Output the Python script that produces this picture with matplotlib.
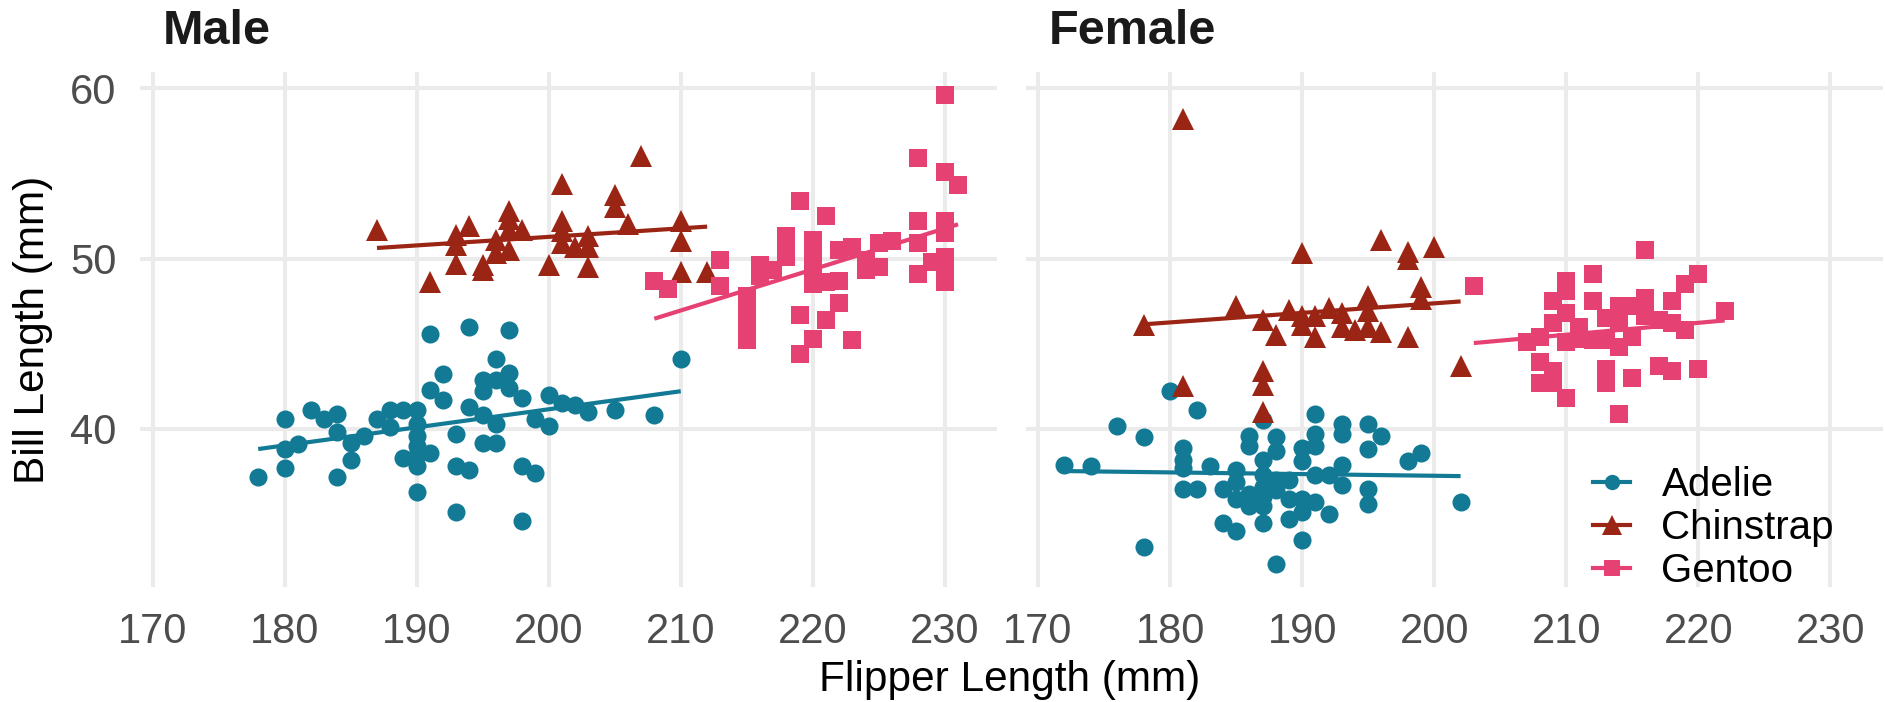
import matplotlib
matplotlib.use("Agg")
import matplotlib.pyplot as plt
from matplotlib.lines import Line2D
import numpy as np

plt.rcParams['font.family'] = ['Liberation Sans', 'DejaVu Sans']

species = ["Adelie", "Chinstrap", "Gentoo"]
sexes = ["Male", "Female"]
colors = {"Adelie": "#137A96", "Chinstrap": "#9A2515", "Gentoo": "#E64173"}
markers = {"Adelie": "o", "Chinstrap": "^", "Gentoo": "s"}

# Male
adelie_m_flipper = [178, 180, 180, 180, 181, 182, 183, 184, 184, 184, 185, 185, 186, 187, 188, 188, 189, 189,
                    190, 190, 190, 190, 190, 190, 190, 191, 191, 191, 192, 192, 193, 193, 193, 194, 194, 194,
                    195, 195, 195, 195, 196, 196, 196, 196, 197, 197, 197, 198, 198, 198, 199, 199, 200, 200,
                    201, 202, 203, 205, 208, 210]
adelie_m_bill = [37.2, 40.6, 38.8, 37.7, 39.1, 41.1, 40.6, 40.9, 39.8, 37.2, 39.2, 38.2, 39.6, 40.6, 41.1, 40.1, 41.1, 38.3,
                 41.1, 40.3, 39.6, 39.0, 38.5, 37.8, 36.3, 45.6, 42.3, 38.6, 43.2, 41.7, 39.7, 37.8, 35.1, 46.0, 41.3, 37.6,
                 42.9, 42.2, 40.8, 39.2, 44.1, 42.9, 40.3, 39.2, 45.8, 43.3, 42.4, 41.8, 37.8, 34.6, 40.6, 37.4, 42.0, 40.2,
                 41.5, 41.4, 41.0, 41.1, 40.8, 44.1]
chinstrap_m_flipper = [187, 191, 193, 193, 193, 194, 195, 195, 196, 196, 197, 197, 197, 197, 198, 200, 201, 201,
                       201, 201, 202, 203, 203, 203, 205, 205, 206, 207, 210, 210, 210, 212]
chinstrap_m_bill = [51.7, 48.6, 51.4, 50.8, 49.7, 51.9, 49.6, 49.3, 51.1, 50.3, 52.8, 52.3, 51.7, 50.5, 51.7, 49.6, 54.4, 52.2,
                    51.6, 50.9, 50.7, 51.3, 50.7, 49.5, 53.7, 53.0, 52.0, 56.0, 52.2, 51.0, 49.2, 49.2]
gentoo_m_flipper = [208, 209, 213, 213, 215, 215, 215, 215, 216, 216, 217, 218, 218, 218, 219, 219, 219, 220, 220, 220,
                    220, 220, 220, 221, 221, 221, 222, 222, 222, 223, 223, 224, 224, 225, 225, 226, 228, 228, 228,
                    228, 229, 230, 230, 230, 230, 230, 230, 230, 231]
gentoo_m_bill = [48.7, 48.2, 49.9, 48.4, 47.8, 46.9, 46.0, 45.2, 49.6, 49.0, 49.3, 51.3, 50.7, 50.1, 53.4, 46.7, 44.4, 51.1,
                 50.4, 49.6, 48.9, 48.5, 45.3, 52.5, 48.6, 46.4, 50.5, 48.7, 47.4, 50.7, 45.2, 49.9, 49.3, 50.9, 49.5,
                 51.0, 55.9, 52.2, 50.9, 49.1, 49.8, 59.6, 55.1, 52.2, 51.5, 50.1, 49.5, 48.6, 54.3]

# Female
adelie_f_flipper = [172, 174, 176, 178, 178, 180, 181, 181, 181, 181, 182, 182, 183, 184, 184, 185, 185, 185, 185,
                    186, 186, 186, 186, 187, 187, 187, 187, 187, 187, 187, 188, 188, 188, 188, 188, 189, 189, 189,
                    190, 190, 190, 190, 190, 191, 191, 191, 191, 191, 192, 192, 193, 193, 193, 193, 195, 195, 195,
                    195, 196, 198, 199, 202]
adelie_f_bill = [37.9, 37.8, 40.2, 39.5, 33.1, 42.2, 38.9, 38.2, 37.7, 36.5, 41.1, 36.5, 37.8, 36.5, 34.5, 37.6, 36.9, 35.9,
                 34.0, 39.6, 39.0, 36.2, 35.5, 40.5, 38.2, 37.3, 36.6, 36.0, 35.5, 34.5, 39.5, 38.7, 37.0, 36.4, 32.1,
                 37.0, 35.9, 34.7, 38.9, 38.1, 35.9, 35.1, 33.5, 40.9, 39.7, 39.0, 37.3, 35.7, 37.3, 35.0, 40.3, 39.7,
                 37.9, 36.7, 40.3, 38.8, 36.5, 35.6, 39.6, 38.1, 38.6, 35.7]
chinstrap_f_flipper = [178, 181, 181, 185, 187, 187, 187, 187, 188, 189, 190, 190, 190, 191, 191, 192, 193, 193, 194,
                       195, 195, 195, 196, 196, 198, 198, 198, 199, 199, 200, 202]
chinstrap_f_bill = [46.1, 58.2, 42.5, 47.2, 46.4, 43.4, 42.6, 41.0, 45.5, 47.0, 50.3, 46.6, 46.1, 46.6, 45.4, 47.1, 46.8,
                    46.0, 45.8, 47.8, 46.9, 46.0, 51.1, 45.7, 50.4, 50.0, 45.4, 48.3, 47.6, 50.7, 43.7]
gentoo_f_flipper = [203, 207, 208, 208, 208, 209, 209, 209, 209, 210, 210, 210, 210, 210, 211, 211, 212, 212, 212, 213,
                    213, 213, 213, 214, 214, 214, 214, 215, 215, 215, 216, 216, 216, 217, 217, 218, 218, 218, 219,
                    219, 220, 220, 222]
gentoo_f_bill = [48.4, 45.1, 45.4, 43.9, 42.7, 47.5, 46.2, 43.4, 42.7, 48.7, 48.1, 46.8, 45.1, 41.8, 46.0, 45.3, 49.1, 47.5,
                 45.2, 46.5, 45.2, 43.5, 42.7, 47.2, 46.2, 44.8, 40.9, 47.2, 45.4, 43.0, 50.5, 47.7, 46.6, 46.4, 43.7,
                 47.5, 46.2, 43.4, 48.5, 45.8, 49.1, 43.5, 46.9]

data = {
    "Male": {"Adelie": (adelie_m_flipper, adelie_m_bill),
             "Chinstrap": (chinstrap_m_flipper, chinstrap_m_bill),
             "Gentoo": (gentoo_m_flipper, gentoo_m_bill)},
    "Female": {"Adelie": (adelie_f_flipper, adelie_f_bill),
               "Chinstrap": (chinstrap_f_flipper, chinstrap_f_bill),
               "Gentoo": (gentoo_f_flipper, gentoo_f_bill)},
}

x_ticks = [170, 180, 190, 200, 210, 220, 230]
y_ticks = [40, 50, 60]

allx = np.concatenate([np.array(d[s][0], float) for d in data.values() for s in species])
ally = np.concatenate([np.array(d[s][1], float) for d in data.values() for s in species])
xr = allx.max() - allx.min()
yr = ally.max() - ally.min()
xlim = (allx.min() - 0.05 * xr, allx.max() + 0.05 * xr)
ylim = (ally.min() - 0.05 * yr, ally.max() + 0.05 * yr)

W, H = 1885, 702
fig = plt.figure(figsize=(W / 100, H / 100), dpi=100)
fig.patch.set_facecolor("white")

panel_w = 857
bottom_px = 587
top_px = 71.5
lefts = [140, 1025.5]

msize = {"Adelie": 13, "Chinstrap": 16.5, "Gentoo": 13}
grid_c = "#EBEBEB"

axes = []
for i, sex in enumerate(sexes):
    ax = fig.add_axes([lefts[i] / W, (H - bottom_px) / H, panel_w / W, (bottom_px - top_px) / H])
    ax.set_xlim(xlim)
    ax.set_ylim(ylim)
    for sp in ax.spines.values():
        sp.set_visible(False)
    ax.set_xticks(x_ticks)
    ax.set_yticks(y_ticks)
    ax.grid(True, color=grid_c, linewidth=2.9, zorder=0)
    ax.set_axisbelow(True)
    ax.tick_params(length=0, labelsize=30, labelcolor="#4D4D4D")
    ax.tick_params(axis="x", pad=18)
    ax.tick_params(axis="y", pad=17)
    if i == 1:
        ax.set_yticklabels([])
    for s in species:
        fx, by = data[sex][s]
        fx = np.array(fx, float)
        by = np.array(by, float)
        ax.plot(fx, by, linestyle="none", marker=markers[s], markersize=msize[s],
                color=colors[s], markeredgewidth=0, zorder=3)
        k, b = np.polyfit(fx, by, 1)
        xs = np.array([fx.min(), fx.max()])
        ax.plot(xs, k * xs + b, color=colors[s], linewidth=3.0, zorder=4, solid_capstyle="butt")
    ax.text(23 / panel_w, 1.0 + 27 / (bottom_px - top_px), sex, transform=ax.transAxes,
            fontsize=35, fontweight="bold", color="#1A1A1A", ha="left", va="baseline")
    axes.append(ax)

fig.text(1010 / W, 1 - 680 / H, "Flipper Length (mm)", fontsize=30.5, ha="center", va="center", color="black")
fig.text(33 / W, 1 - 330 / H, "Bill Length (mm)", fontsize=30.5, ha="center", va="center",
         rotation=90, color="black")

handles = [Line2D([0], [0], color=colors[s], marker=markers[s], markersize=msize[s] * 0.85,
                  linewidth=3.0, markeredgewidth=0) for s in species]
fig.legend(handles, species, loc="center left", bbox_to_anchor=(1593 / W, 1 - 528 / H),
           frameon=False, fontsize=29, handlelength=0.92, handletextpad=0.78,
           labelspacing=0.12, borderpad=0, borderaxespad=0)

fig.savefig("out.png", dpi=100, facecolor="white")
